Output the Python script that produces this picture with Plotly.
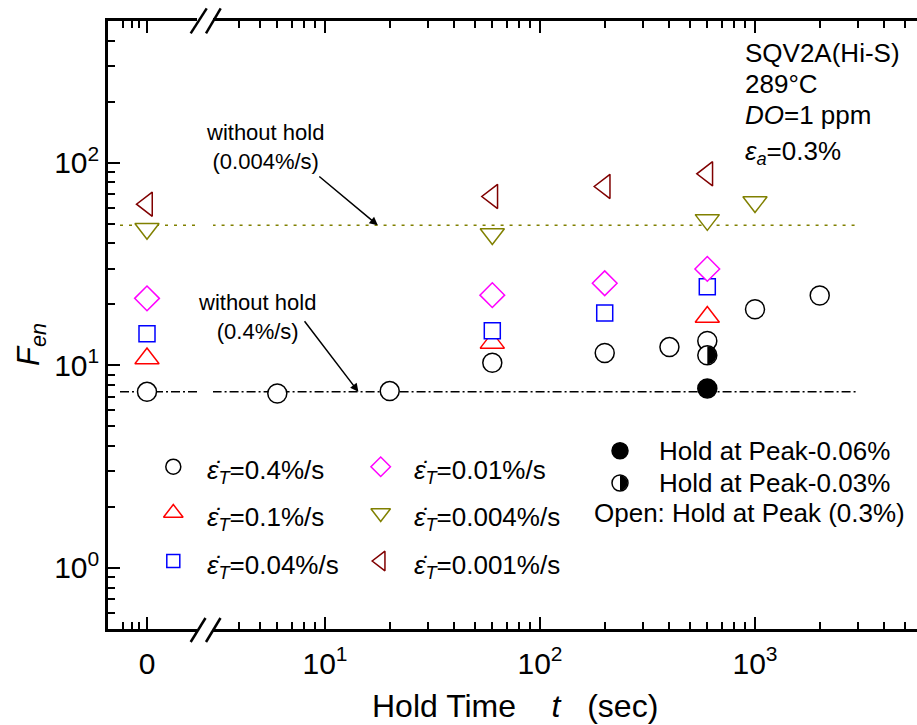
import math
import plotly.graph_objects as go

# ---------------- data ----------------
rate_labels = ["0.4%/s", "0.1%/s", "0.04%/s", "0.01%/s", "0.004%/s", "0.001%/s"]
symbols = ["circle", "triangle-up", "square", "diamond", "triangle-down", "triangle-left"]
colors = ["#000000", "#FF0000", "#0000FF", "#FF00FF", "#808000", "#800000"]
marker_sizes = [19, 21, 16, 19, 21, 21]
legend_sizes = [15, 17, 13, 15, 17, 17]

# F_en of the tests without hold (plotted at hold time "0")
fen_zero_hold = [7.4, 10.8, 14.3, 21.4, 47.2, 62.4]

# tests with a hold at peak strain (0.3%)
hold_04 = [6, 20, 60, 200, 400, 600, 1000, 2000]
fen_04 = [7.26, 7.46, 10.3, 11.5, 12.3, 13.2, 18.9, 22.1]
hold_01 = [60, 600]
fen_01 = [12.9, 17.3]
hold_004 = [60, 200, 600]
fen_004 = [14.8, 18.1, 24.4]
hold_001 = [60, 200, 600]
fen_001 = [22.2, 25.4, 29.9]
hold_0004 = [60, 600, 1000]
fen_0004 = [44.5, 52.2, 63.9]
hold_0001 = [60, 200, 600]
fen_0001 = [68.1, 76.3, 88.1]

hold_times = [hold_04, hold_01, hold_004, hold_001, hold_0004, hold_0001]
fen_values = [fen_04, fen_01, fen_004, fen_001, fen_0004, fen_0001]

# holds below peak strain
hold_peak006 = [600]
fen_peak006 = [7.69]
hold_peak003 = [600]
fen_peak003 = [11.2]

# reference levels of the no-hold tests
base_fen_04 = 7.4
base_fen_0004 = 49.1
base_right_span = [3, 3000]
base_left_start = -0.27

# axis ticks
x_major = [10, 100, 1000]
x_major_text = ["10<sup>1</sup>", "10<sup>2</sup>", "10<sup>3</sup>"]
y_major = [1, 10, 100]
y_major_text = ["10<sup>0</sup>", "10<sup>1</sup>", "10<sup>2</sup>"]

# ---------------- layout geometry ----------------
W, H = 917, 725
ML, MR, MT, MB = 108, 0, 21, 96
PW, PH = W - ML - MR, H - MT - MB
FONT = "Liberation Sans, Arial, sans-serif"


def px(xp):
    return (xp - ML) / PW


def py(yp):
    return (H - MB - yp) / PH


left_end_px = 197
right_start_px = 213
left_range = [(ML - 147) / 100.0, (left_end_px - 147) / 100.0]
x2_log_lo = 1 - (325 - right_start_px) / 215.0
x2_log_hi = 1 + (W - MR - 325) / 215.0
y_range = [-0.30103, 2.69897]

x_minor = [v * 10 ** e for e in range(0, 4) for v in range(2, 10)]
x_minor = [v for v in x_minor if 3.5 < v < 10 ** x2_log_hi and v not in x_major]
y_minor = [v * 10 ** e for e in range(-1, 3) for v in range(2, 10)]
y_minor = [v for v in y_minor if 0.5 < v < 500 and v not in y_major]

fig = go.Figure()

# reference lines of the no-hold tests
for level, color, dash in [(base_fen_0004, "#808000", "3px,6px"),
                           (base_fen_04, "#000000", "9px,3px,2px,3px")]:
    fig.add_trace(go.Scatter(x=[base_left_start, left_range[1]], y=[level, level],
                             xaxis="x", yaxis="y", mode="lines",
                             line=dict(color=color, width=1.5, dash=dash),
                             showlegend=False, hoverinfo="skip"))
    fig.add_trace(go.Scatter(x=base_right_span, y=[level, level],
                             xaxis="x2", yaxis="y", mode="lines",
                             line=dict(color=color, width=1.5, dash=dash),
                             showlegend=False, hoverinfo="skip"))

# data series
for i in range(len(rate_labels)):
    mk = dict(symbol=symbols[i], size=marker_sizes[i], color="white",
              line=dict(color=colors[i], width=1.5))
    fig.add_trace(go.Scatter(x=[0], y=[fen_zero_hold[i]], xaxis="x", yaxis="y",
                             mode="markers", marker=mk, cliponaxis=False,
                             showlegend=False, name=rate_labels[i]))
    fig.add_trace(go.Scatter(x=hold_times[i], y=fen_values[i], xaxis="x2", yaxis="y",
                             mode="markers", marker=mk, cliponaxis=False,
                             showlegend=False, name=rate_labels[i]))

# hold below peak
fig.add_trace(go.Scatter(x=hold_peak003, y=fen_peak003, xaxis="x2", yaxis="y",
                         mode="markers", showlegend=False,
                         marker=dict(symbol="circle", size=19, color="white",
                                     line=dict(color="black", width=1.5))))
fig.add_trace(go.Scatter(x=hold_peak006, y=fen_peak006, xaxis="x2", yaxis="y",
                         mode="markers", showlegend=False,
                         marker=dict(symbol="circle", size=19, color="black",
                                     line=dict(color="black", width=1.5))))


def right_half_disk(r):
    k = 0.5523 * r
    return (f"M 0 {r} C {k:.2f} {r} {r} {k:.2f} {r} 0 "
            f"C {r} {-k:.2f} {k:.2f} {-r} 0 {-r} Z")


shapes = []
shapes.append(dict(type="path", xref="x2", yref="y", xsizemode="pixel", ysizemode="pixel",
                   xanchor=hold_peak003[0], yanchor=fen_peak003[0],
                   path=right_half_disk(9), fillcolor="black", line=dict(width=0)))

# ---------------- legend (pixel overlay axes) ----------------
leg1_rows = [466.7, 513, 561]
leg_cols_marker = [173.3, 380.7]
leg_cols_text = [205, 412]
for i in range(len(rate_labels)):
    col, row = divmod(i, 3)
    fig.add_trace(go.Scatter(x=[leg_cols_marker[col]], y=[leg1_rows[row]],
                             xaxis="x3", yaxis="y3", mode="markers", showlegend=False,
                             marker=dict(symbol=symbols[i], size=legend_sizes[i],
                                         color="white",
                                         line=dict(color=colors[i], width=1.5)),
                             hoverinfo="skip"))

fig.add_trace(go.Scatter(x=[620, 620], y=[450.7, 483], xaxis="x3", yaxis="y3",
                         mode="markers", showlegend=False, hoverinfo="skip",
                         marker=dict(symbol="circle", size=16,
                                     color=["black", "white"],
                                     line=dict(color="black", width=1.5))))
shapes.append(dict(type="path", xref="x3", yref="y3", xsizemode="pixel", ysizemode="pixel",
                   xanchor=620, yanchor=483, path=right_half_disk(7.5),
                   fillcolor="black", line=dict(width=0)))

# axis break marks
for (xa, ya, xb, yb) in [(190.7, 642, 205.5, 618), (206, 642, 220.5, 618),
                         (190.7, 33.3, 206.7, 8.3), (206, 33.3, 220.7, 8.3)]:
    shapes.append(dict(type="line", xref="paper", yref="paper",
                       x0=px(xa), y0=py(ya), x1=px(xb), y1=py(yb),
                       line=dict(color="black", width=2.5)))

ann = []


def text(xp, yp, s, size=26, xanchor="left", yanchor="middle", align="left", angle=0):
    ann.append(dict(x=px(xp), y=py(yp), xref="paper", yref="paper", text=s,
                    showarrow=False, xanchor=xanchor, yanchor=yanchor, align=align,
                    textangle=angle, font=dict(family=FONT, size=size, color="black")))


for i, lab in enumerate(rate_labels):
    col, row = divmod(i, 3)
    text(leg_cols_text[col], leg1_rows[row] + 5,
         "<i>\u03b5\u0307</i><sub><i>T</i></sub>=" + lab)

text(657, 450.7, "Hold at Peak-0.06%")
text(657, 483, "Hold at Peak-0.03%")
text(591.7, 513, "Open: Hold at Peak (0.3%)")

text(743, 52.5, "SQV2A(Hi-S)")
text(743, 83.5, "289\u00b0C")
text(743, 115, "<i>DO</i>=1 ppm")
text(743, 152, "<i>\u03b5</i><sub><i>a</i></sub>=0.3%")

text(265, 147, "without hold<br>(0.004%/s)", size=22, xanchor="center", align="center")
text(257, 317, "without hold<br>(0.4%/s)", size=22, xanchor="center", align="center")

# arrows to the reference lines
for (tx, lvl, ax, ay) in [(17.6, base_fen_0004, -60, -50), (14.3, base_fen_04, -55, -72)]:
    ann.append(dict(x=math.log10(tx), y=math.log10(lvl), xref="x2", yref="y",
                    text="", showarrow=True, arrowhead=2, arrowsize=1.1,
                    arrowwidth=1.5, arrowcolor="black", ax=ax, ay=ay))

text(515, 706, "Hold Time&nbsp;&nbsp;&nbsp;&nbsp;<i>t</i>&nbsp;&nbsp;&nbsp;(sec)",
     size=32, xanchor="center")
text(31, 345, "<i>F</i><sub><i>en</i></sub>", size=31, xanchor="center", angle=-90)

axis_common = dict(showgrid=False, zeroline=False, showline=True, linecolor="black",
                   linewidth=2.5, ticks="inside", ticklen=12, tickwidth=2,
                   tickcolor="black", tickfont=dict(family=FONT, size=30, color="black"))

fig.update_layout(
    width=W, height=H,
    margin=dict(l=ML, r=MR, t=MT, b=MB, pad=0),
    paper_bgcolor="white", plot_bgcolor="rgba(0,0,0,0)",
    showlegend=False,
    font=dict(family=FONT, color="black"),
    xaxis=dict(axis_common, domain=[0, px(left_end_px)], range=left_range,
               type="linear", anchor="y", mirror="ticks", ticklabelstandoff=6,
               tickmode="array", tickvals=[0], ticktext=["0"],
               minor=dict(tickmode="array", tickvals=[-0.243, -0.153, -0.077],
                          ticks="inside", ticklen=7, tickwidth=2, tickcolor="black",
                          showgrid=False)),
    xaxis2=dict(axis_common, domain=[px(right_start_px), 1],
                range=[x2_log_lo, x2_log_hi], type="log", anchor="y", mirror="ticks",
                ticklabelstandoff=6,
                tickmode="array", tickvals=x_major, ticktext=x_major_text,
                minor=dict(tickmode="array", tickvals=x_minor, ticks="inside",
                           ticklen=7, tickwidth=2, tickcolor="black", showgrid=False)),
    yaxis=dict(axis_common, domain=[0, 1], range=y_range, type="log", anchor="x",
               side="left", mirror=False,
               tickmode="array", tickvals=y_major, ticktext=y_major_text,
               minor=dict(tickmode="array", tickvals=y_minor, ticks="inside",
                          ticklen=7, tickwidth=2, tickcolor="black", showgrid=False)),
    yaxis2=dict(showgrid=False, zeroline=False, showline=False, overlaying="y",
                anchor="x2", side="right", range=y_range, type="log",
                ticks="inside", ticklen=12, tickwidth=2, tickcolor="black",
                showticklabels=False, tickmode="array", tickvals=y_major,
                minor=dict(tickmode="array", tickvals=y_minor, ticks="inside",
                           ticklen=7, tickwidth=2, tickcolor="black", showgrid=False)),
    xaxis3=dict(domain=[0, 1], range=[ML, W - MR], visible=False, anchor="y3",
                fixedrange=True),
    yaxis3=dict(domain=[0, 1], range=[H - MB, MT], visible=False, anchor="x3",
                fixedrange=True),
    shapes=shapes,
    annotations=ann,
)

fig.write_html("out.html")
